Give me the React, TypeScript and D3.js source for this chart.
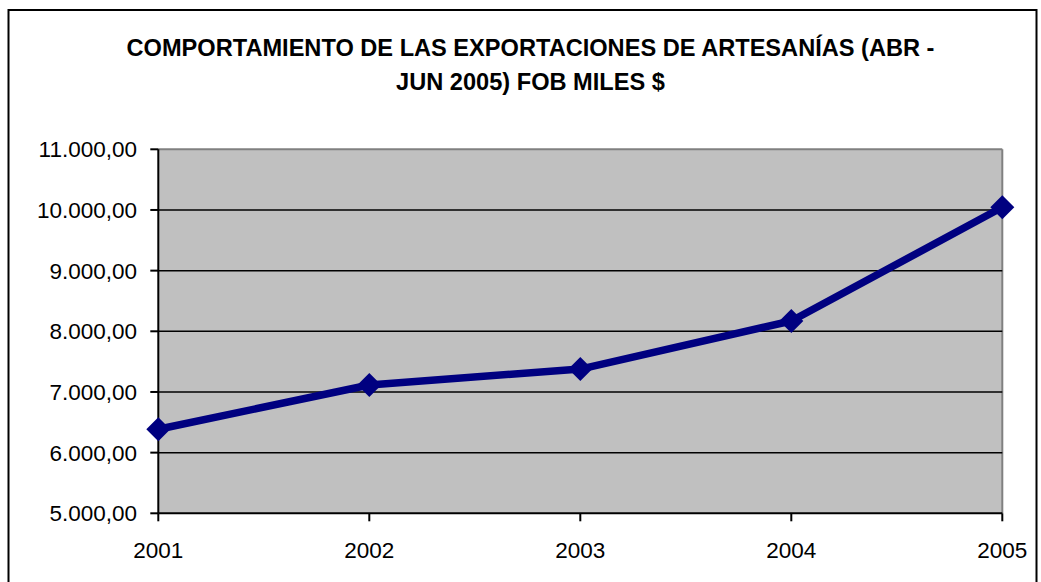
import React from "react";
import * as d3 from "d3";

const years = ["2001", "2002", "2003", "2004", "2005"];
const values = [6385, 7115, 7378, 8170, 10044];
const yTicks = [5000, 6000, 7000, 8000, 9000, 10000, 11000];
const titleLines = [
  "COMPORTAMIENTO DE LAS EXPORTACIONES DE ARTESANÍAS (ABR -",
  "JUN 2005) FOB MILES $",
];

const fmt = (v: number) => {
  const s = v.toFixed(2).replace(".", ",");
  const [i, d] = s.split(",");
  return i.replace(/\B(?=(\d{3})+(?!\d))/g, ".") + "," + d;
};

export default function App() {
  const left = 158.3, right = 1002.3, top = 149.3, bottom = 513.3;
  const x = d3.scalePoint<string>().domain(years).range([left, right]);
  const y = d3.scaleLinear().domain([5000, 11000]).range([bottom, top]);
  const line = d3
    .line<number>()
    .x((_, i) => x(years[i]) as number)
    .y((d) => y(d));
  const font = "'Liberation Sans', Arial, sans-serif";
  const r = 12;
  return (
    <svg
      width={1041}
      height={582}
      style={{ position: "absolute", left: 0, top: 0, fontFamily: font }}
    >
      <rect x={0} y={0} width={1041} height={582} fill="#fff" />
      <rect x={8.5} y={10} width={1028} height={600} fill="none" stroke="#000" strokeWidth={2} />
      {titleLines.map((t, i) => (
        <text
          key={i}
          x={530.5}
          y={56 + i * 34}
          textAnchor="middle"
          fontWeight="bold"
          fontSize={23.6}
          fill="#000"
        >
          {t}
        </text>
      ))}
      <rect x={left} y={top} width={right - left} height={bottom - top} fill="#C0C0C0" />
      <line x1={left} x2={right} y1={top} y2={top} stroke="#808080" strokeWidth={2} />
      <line x1={right} x2={right} y1={top} y2={bottom} stroke="#808080" strokeWidth={2} />
      {yTicks.slice(1, -1).map((v) => (
        <line key={v} x1={left} x2={right} y1={y(v)} y2={y(v)} stroke="#000" strokeWidth={1.5} />
      ))}
      <line x1={left} x2={left} y1={top} y2={bottom} stroke="#000" strokeWidth={2} />
      <line x1={left} x2={right} y1={bottom} y2={bottom} stroke="#000" strokeWidth={2} />
      {yTicks.map((v) => (
        <g key={v}>
          <line x1={left - 8} x2={left} y1={y(v)} y2={y(v)} stroke="#000" strokeWidth={2} />
          <text x={137} y={y(v) + 8} textAnchor="end" fontSize={22.5} fill="#000">
            {fmt(v)}
          </text>
        </g>
      ))}
      {years.map((yr) => (
        <g key={yr}>
          <line
            x1={x(yr)}
            x2={x(yr)}
            y1={bottom}
            y2={bottom + 8}
            stroke="#000"
            strokeWidth={2}
          />
          <text x={x(yr)} y={558} textAnchor="middle" fontSize={22.5} fill="#000">
            {yr}
          </text>
        </g>
      ))}
      <path d={line(values) || ""} fill="none" stroke="#000080" strokeWidth={7.5} strokeLinejoin="round" />
      {values.map((v, i) => {
        const cx = x(years[i]) as number;
        const cy = y(v);
        return (
          <path
            key={i}
            d={`M${cx},${cy - r}L${cx + r},${cy}L${cx},${cy + r}L${cx - r},${cy}Z`}
            fill="#000080"
          />
        );
      })}
    </svg>
  );
}
